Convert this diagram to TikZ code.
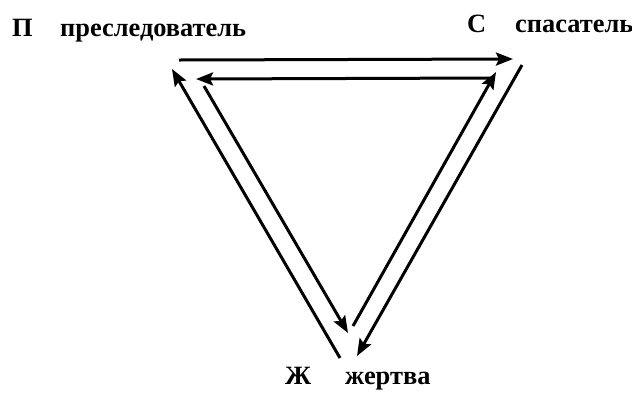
\documentclass[tikz,border=0pt]{standalone}
\usepackage{fontspec}
\setmainfont{Liberation Serif}
\usetikzlibrary{arrows.meta}
\begin{document}
\begin{tikzpicture}[x=1bp,y=-1bp,
  lbl/.style={anchor=base west,inner sep=0pt,font=\fontsize{26.5}{30}\selectfont\bfseries},
  arr/.style={line width=3bp,-{Stealth[length=17bp,width=13bp,inset=3bp]}}]
\useasboundingbox (0,0) rectangle (632,393);
% labels
\node[lbl] (pl) at (12,36) {П};
\node[lbl] (pt) at (60,36) {преследователь};
\node[lbl] (sl) at (467,32) {С};
\node[lbl] (st) at (515,32) {спасатель};
\node[lbl] (zl) at (285,384) {Ж};
\node[lbl] (zt) at (345,384) {жертва};
% endpoints
\coordinate (ot1) at (179,60);
\coordinate (ot2) at (513,59);
\coordinate (it1) at (492,78);
\coordinate (it2) at (196,79);
\coordinate (ol1) at (340,358);
\coordinate (ol2) at (172,69);
\coordinate (il1) at (204,86);
\coordinate (il2) at (348,333);
\coordinate (ir1) at (353,326);
\coordinate (ir2) at (496,72);
\coordinate (or1) at (522,65);
\coordinate (or2) at (357,356);
% arrows
\draw[arr] (ot1) -- (ot2);
\draw[arr] (it1) -- (it2);
\draw[arr] (ol1) -- (ol2);
\draw[arr] (il1) -- (il2);
\draw[arr] (ir1) -- (ir2);
\draw[arr] (or1) -- (or2);
\end{tikzpicture}
\end{document}
